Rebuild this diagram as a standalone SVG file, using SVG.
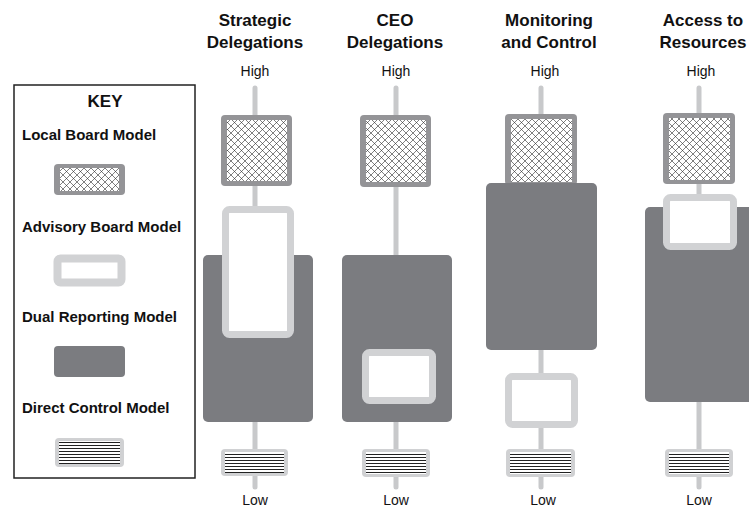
<svg xmlns="http://www.w3.org/2000/svg" width="749" height="507" viewBox="0 0 749 507">
<defs>
<pattern id="hatch" patternUnits="userSpaceOnUse" width="7" height="7">
<rect width="7" height="7" fill="#ffffff"/>
<path d="M0,0 L7,7 M7,0 L0,7" stroke="#2a2a2a" stroke-width="0.6" fill="none"/>
</pattern>
<pattern id="lines" patternUnits="userSpaceOnUse" width="10" height="3">
<rect width="10" height="3" fill="#ffffff"/>
<rect y="1" width="10" height="1" fill="#222"/>
</pattern>
<style>
.title{font-family:"Liberation Sans",Arial,sans-serif;font-weight:bold;font-size:17px;fill:#111;text-anchor:middle}
.hl{font-family:"Liberation Sans",Arial,sans-serif;font-size:14px;fill:#111;text-anchor:middle}
.key{font-family:"Liberation Sans",Arial,sans-serif;font-weight:bold;font-size:15px;fill:#111}
.conn{stroke:#c8c9cb;stroke-width:5;stroke-linecap:round;fill:none}
.localo{fill:#949497}
.locali{fill:url(#hatch)}
.adv{fill:#ffffff;stroke:#d1d2d4;stroke-width:7}
.dual{fill:#7b7c80}
.dco{fill:#d0d1d3}
.dci{fill:url(#lines)}
</style>
</defs>
<rect width="749" height="507" fill="#ffffff"/>

<g id="key">
<rect x="14" y="85" width="181" height="393" fill="none" stroke="#222" stroke-width="1.5"/>
<text class="key" x="105" y="107" text-anchor="middle" style="font-size:17px">KEY</text>
<text class="key" x="22" y="140">Local Board Model</text>
<rect class="localo" x="54" y="164" width="71" height="31" rx="4"/>
<rect class="locali" x="60" y="168" width="59" height="23"/>
<text class="key" x="22" y="232">Advisory Board Model</text>
<rect class="adv" x="57.5" y="258.5" width="64" height="24" rx="3" style="stroke-width:8"/>
<text class="key" x="22" y="322">Dual Reporting Model</text>
<rect class="dual" x="54" y="346" width="71" height="31" rx="4"/>
<text class="key" x="22" y="413">Direct Control Model</text>
<rect class="dco" x="55" y="438" width="69" height="29" rx="4"/>
<rect class="dci" x="59" y="441" width="61" height="23"/>
</g>

<g id="titles">
<text class="title" x="255" y="26">Strategic</text>
<text class="title" x="255" y="48">Delegations</text>
<text class="title" x="395" y="26">CEO</text>
<text class="title" x="395" y="48">Delegations</text>
<text class="title" x="549" y="26">Monitoring</text>
<text class="title" x="549" y="48">and Control</text>
<text class="title" x="703" y="26">Access to</text>
<text class="title" x="703" y="48">Resources</text>
<text class="hl" x="255" y="76">High</text>
<text class="hl" x="396" y="76">High</text>
<text class="hl" x="545" y="76">High</text>
<text class="hl" x="701" y="76">High</text>
<text class="hl" x="255" y="505">Low</text>
<text class="hl" x="396" y="505">Low</text>
<text class="hl" x="543" y="505">Low</text>
<text class="hl" x="699" y="505">Low</text>
</g>

<g id="connectors">
<line class="conn" x1="255" y1="88" x2="255" y2="487"/>
<line class="conn" x1="396" y1="88" x2="396" y2="487"/>
<line class="conn" x1="541" y1="88" x2="541" y2="487"/>
<line class="conn" x1="699" y1="88" x2="699" y2="487"/>
</g>

<g id="strategic-dual"><rect class="dual" x="203" y="255" width="110" height="167" rx="5"/></g>
<g id="strategic-advisory"><rect class="adv" x="225.5" y="209.5" width="65" height="125" rx="4"/></g>
<g id="strategic-local"><rect class="localo" x="221" y="115" width="71" height="71" rx="4"/><rect class="locali" x="227" y="120" width="60" height="61"/></g>
<g id="strategic-direct"><rect class="dco" x="221" y="449" width="67" height="27" rx="4"/><rect class="dci" x="225" y="452" width="59" height="21"/></g>

<g id="ceo-dual"><rect class="dual" x="342" y="255" width="110" height="167" rx="5"/></g>
<g id="ceo-advisory"><rect class="adv" x="365.5" y="352.5" width="67" height="48" rx="4"/></g>
<g id="ceo-local"><rect class="localo" x="360" y="115" width="71" height="72" rx="4"/><rect class="locali" x="366" y="120" width="60" height="62"/></g>
<g id="ceo-direct"><rect class="dco" x="362" y="449" width="68" height="28" rx="4"/><rect class="dci" x="366" y="452" width="60" height="22"/></g>

<g id="monitoring-local"><rect class="localo" x="505" y="114" width="72" height="71" rx="4"/><rect class="locali" x="511" y="119" width="61" height="63"/></g>
<g id="monitoring-dual"><rect class="dual" x="486" y="183" width="111" height="167" rx="5"/></g>
<g id="monitoring-advisory"><rect class="adv" x="508.5" y="376.5" width="66" height="48" rx="4"/></g>
<g id="monitoring-direct"><rect class="dco" x="506" y="449" width="69" height="28" rx="4"/><rect class="dci" x="510" y="452" width="61" height="22"/></g>

<g id="access-dual"><rect class="dual" x="645" y="207" width="115" height="195" rx="5"/></g>
<g id="access-advisory"><rect class="adv" x="666.5" y="197.5" width="67" height="49" rx="4"/></g>
<g id="access-local"><rect class="localo" x="663" y="113" width="72" height="71" rx="4"/><rect class="locali" x="669" y="118" width="61" height="62"/></g>
<g id="access-direct"><rect class="dco" x="665" y="449" width="68" height="28" rx="4"/><rect class="dci" x="669" y="452" width="60" height="22"/></g>
</svg>
